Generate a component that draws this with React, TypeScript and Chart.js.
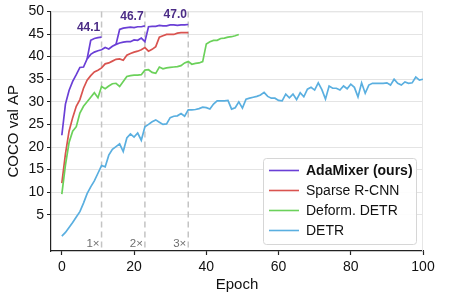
import React, { useEffect, useRef } from "react";
import { Chart, registerables } from "chart.js";

Chart.register(...registerables);

// ---------- data ----------
const adaMain = [22.6, 29.5, 32.5, 34.5, 36.0, 37.6, 37.7, 39.5, 40.5, 41.0, 41.3, 41.5, 42.0, 41.7, 42.3, 42.7, 43.0, 43.2, 43.3, 43.3, 43.7, 43.6, 44.1, 43.3, 46.6, 46.7, 46.7, 46.9, 46.8, 46.8, 47.0, 47.0, 46.9, 47.0, 47.0, 47.1];
const ada1xStart = 7;
const ada1x = [39.5, 43.6, 44.0, 44.2, 44.3];
const ada2xStart = 15;
const ada2x = [42.7, 46.0, 46.3, 46.4, 46.5, 46.4, 46.6, 46.6, 46.8];
const sparse = [12.0, 18.5, 23.5, 26.5, 29.0, 30.5, 33.0, 34.8, 35.8, 36.6, 37.0, 37.5, 38.4, 38.6, 39.0, 39.4, 39.5, 39.2, 40.3, 40.7, 41.0, 41.2, 41.5, 42.0, 41.2, 41.6, 42.2, 44.3, 44.6, 44.9, 44.9, 44.9, 45.2, 45.3, 45.3, 45.3];
const deform = [9.6, 16.0, 21.0, 23.5, 24.5, 27.5, 29.0, 30.0, 31.0, 32.0, 30.9, 33.4, 32.9, 33.5, 34.0, 34.1, 33.4, 34.5, 35.6, 35.8, 35.9, 35.9, 36.0, 37.0, 37.1, 36.5, 36.3, 37.7, 37.3, 37.5, 37.6, 37.7, 37.8, 38.0, 38.6, 38.9, 38.3, 38.5, 38.6, 38.9, 42.8, 43.3, 43.6, 43.6, 44.0, 44.1, 44.3, 44.4, 44.6, 44.9];
const detr = [0.3, 1.1, 2.2, 3.3, 4.5, 5.7, 7.6, 9.7, 11.2, 12.5, 14.2, 15.9, 15.6, 18.2, 19.5, 20.1, 20.7, 19.0, 22.0, 22.9, 22.2, 23.1, 21.5, 24.5, 25.0, 25.6, 26.0, 25.5, 25.0, 25.1, 26.5, 26.8, 26.9, 27.4, 26.8, 28.2, 28.2, 28.3, 28.5, 28.8, 28.7, 28.4, 29.5, 30.2, 30.2, 30.2, 30.3, 28.4, 28.7, 30.0, 28.6, 30.6, 30.8, 31.0, 31.2, 31.5, 32.1, 31.2, 30.8, 30.8, 30.3, 30.2, 31.7, 30.9, 31.7, 30.5, 32.0, 31.1, 32.8, 33.2, 32.6, 34.2, 32.7, 30.6, 33.5, 33.0, 33.0, 32.6, 33.5, 32.9, 33.9, 33.2, 31.1, 34.2, 31.9, 33.7, 34.1, 34.1, 34.1, 34.1, 34.2, 33.7, 35.0, 34.1, 33.7, 34.4, 34.1, 34.2, 35.5, 34.8, 35.0];

const legendLabels = ["AdaMixer (ours)", "Sparse R-CNN", "Deform. DETR", "DETR"];
const colors = ["#6a3fd6", "#d9534f", "#6bd15a", "#5aafe0"];
const scheduleEpochs = [11, 23, 35];
const scheduleLabels = ["1×", "2×", "3×"];
const annEpochs = [11, 23, 35];
const annValues = [44.1, 46.7, 47.0];
const annLabels = ["44.1", "46.7", "47.0"];
const xTicks = [0, 20, 40, 60, 80, 100];
const yTicks = [5, 10, 15, 20, 25, 30, 35, 40, 45, 50];

const FONT = "'Liberation Sans', Arial, Helvetica, sans-serif";

const pts = (arr: number[], start = 0) => arr.map((y, i) => ({ x: start + i, y }));

const overlayPlugin = {
  id: "overlay",
  beforeDatasetsDraw(chart: any) {
    const { ctx, chartArea, scales } = chart;
    const xs = scales.x;
    ctx.save();
    // top & right frame
    ctx.strokeStyle = "#e6e6e6";
    ctx.lineWidth = 1;
    ctx.beginPath();
    ctx.moveTo(chartArea.left, chartArea.top + 0.5);
    ctx.lineTo(chartArea.right, chartArea.top + 0.5);
    ctx.moveTo(chartArea.right - 0.5, chartArea.top);
    ctx.lineTo(chartArea.right - 0.5, chartArea.bottom);
    ctx.stroke();
    // schedule lines
    ctx.strokeStyle = "#c4c4c4";
    ctx.lineWidth = 1.5;
    ctx.setLineDash([6, 4]);
    scheduleEpochs.forEach((e, i) => {
      const x = xs.getPixelForValue(e);
      ctx.beginPath();
      ctx.moveTo(x, chartArea.top);
      ctx.lineTo(x, chartArea.bottom);
      ctx.stroke();
      ctx.fillStyle = "#6e6e6e";
      ctx.font = `11.5px ${FONT}`;
      ctx.textAlign = "right";
      ctx.textBaseline = "middle";
      ctx.fillText(scheduleLabels[i], x - 2, chartArea.bottom - 7);
    });
    ctx.restore();
  },
  afterDatasetsDraw(chart: any) {
    const { ctx, scales } = chart;
    const xs = scales.x;
    const ys = scales.y;
    ctx.save();
    // annotations
    ctx.fillStyle = "#4b2c86";
    ctx.font = `bold 12px ${FONT}`;
    ctx.textAlign = "center";
    ctx.textBaseline = "middle";
    annEpochs.forEach((e, i) => {
      ctx.fillText(annLabels[i], xs.getPixelForValue(e) - 13, ys.getPixelForValue(annValues[i]) - 10);
    });
    // legend
    const bx = 263, by = 158, bw = 153, bh = 86;
    ctx.beginPath();
    ctx.roundRect(bx + 0.5, by + 0.5, bw, bh, 3);
    ctx.fillStyle = "rgba(255,255,255,0.9)";
    ctx.fill();
    ctx.strokeStyle = "#d6d6d6";
    ctx.lineWidth = 1;
    ctx.stroke();
    legendLabels.forEach((lab, i) => {
      const y = by + 12.5 + i * 20;
      ctx.strokeStyle = colors[i];
      ctx.lineWidth = 1.6;
      ctx.beginPath();
      ctx.moveTo(bx + 6, y);
      ctx.lineTo(bx + 36, y);
      ctx.stroke();
      ctx.fillStyle = "#111";
      ctx.font = `${i === 0 ? "bold " : ""}14px ${FONT}`;
      ctx.textAlign = "left";
      ctx.textBaseline = "middle";
      ctx.fillText(lab, bx + 43, y + 0.5);
    });
    ctx.restore();
  },
};

export default function App() {
  const ref = useRef<HTMLCanvasElement>(null);
  useEffect(() => {
    document.body.style.margin = "0";
    const lineDs = (data: any[], color: string) => ({
      data,
      borderColor: color,
      backgroundColor: color,
      borderWidth: 1.7,
      pointRadius: 0,
      tension: 0,
      fill: false,
    });
    const chart = new Chart(ref.current as HTMLCanvasElement, {
      type: "line",
      data: {
        datasets: [
          lineDs(pts(detr), colors[3]),
          lineDs(pts(deform), colors[2]),
          lineDs(pts(sparse), colors[1]),
          lineDs(pts(adaMain), colors[0]),
          lineDs(pts(ada1x, ada1xStart), colors[0]),
          lineDs(pts(ada2x, ada2xStart), colors[0]),
        ],
      },
      options: {
        responsive: false,
        animation: false,
        layout: { padding: { left: 5, right: 53, top: 10, bottom: 0 } },
        plugins: { legend: { display: false }, tooltip: { enabled: false } },
        scales: {
          x: {
            type: "linear",
            min: -3,
            max: 100,
            afterBuildTicks: (s: any) => {
              s.ticks = xTicks.map((v) => ({ value: v }));
            },
            afterFit: (s: any) => {
              s.height = 43;
            },
            grid: { drawOnChartArea: false, drawTicks: true, tickLength: 4, tickColor: "#222", tickWidth: 1.2 },
            border: { color: "#222", width: 1.2 },
            ticks: { color: "#111", font: { family: FONT, size: 14 }, padding: 4, maxRotation: 0 },
            title: { display: true, text: "Epoch", color: "#111", font: { family: FONT, size: 15 }, padding: { top: 0, bottom: 0 } },
          },
          y: {
            type: "linear",
            min: -3,
            max: 50,
            afterBuildTicks: (s: any) => {
              s.ticks = yTicks.map((v) => ({ value: v }));
            },
            afterFit: (s: any) => {
              s.width = 46;
            },
            grid: {
              color: "#e4e4e4",
              lineWidth: 1,
              borderDash: [4, 3],
              tickBorderDash: [1, 0],
              tickColor: "#222",
              tickLength: 4,
              tickWidth: 1.2,
            },
            border: { color: "#222", width: 1.2 },
            ticks: { color: "#111", font: { family: FONT, size: 14 }, padding: 3 },
            title: { display: true, text: "COCO val AP", color: "#111", font: { family: FONT, size: 15 }, padding: { top: 0, bottom: 3 } },
          },
        },
      },
      plugins: [overlayPlugin],
    } as any);
    return () => chart.destroy();
  }, []);
  return (
    <div style={{ width: 476, height: 294 }}>
      <canvas ref={ref} width={476} height={294} style={{ display: "block" }} />
    </div>
  );
}
